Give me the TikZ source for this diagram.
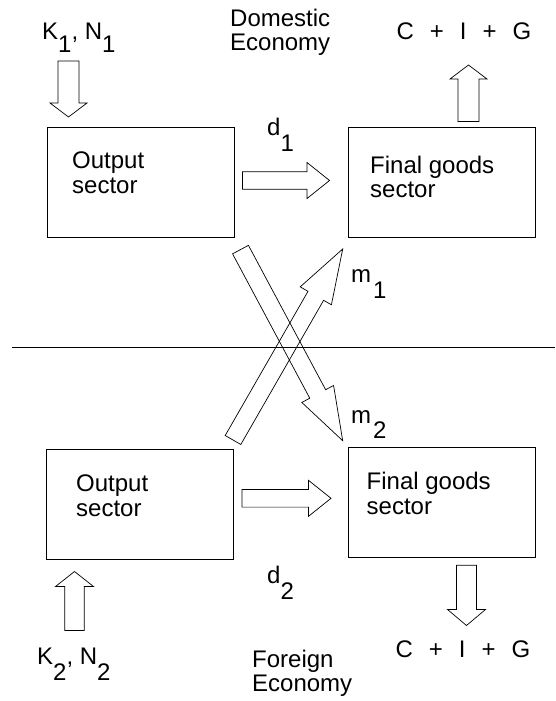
\documentclass[tikz,border=0pt]{standalone}
\usepackage{fontspec}
\setmainfont{Liberation Sans}
\usetikzlibrary{calc}
\tikzset{
  boxshape/.style={draw, line width=0.9pt, minimum width=187pt, minimum height=110pt, inner sep=0pt},
  txt/.style={inner sep=0pt, anchor=base west, font=\fontsize{24}{26}\selectfont},
  arrowline/.style={draw, line width=0.7pt, line join=miter}
}
\newcommand\blockarrow[5]{%
  \coordinate (ba-h) at ($(#2)!#5!(#1)$);
  \draw[arrowline] ($(#1)!#3!90:(#2)$) -- ($(ba-h)!#3!90:(#2)$) -- ($(ba-h)!#4!90:(#2)$) -- (#2)
    -- ($(ba-h)!#4!-90:(#2)$) -- ($(ba-h)!#3!-90:(#2)$) -- ($(#1)!#3!-90:(#2)$) -- cycle;
}
\newcommand\lowsub[2]{\raisebox{-#1}{#2}}
\newcommand\gap{\hspace{16pt}}
\begin{document}
\begin{tikzpicture}[x=1pt, y=-1pt]
\useasboundingbox (0,0) rectangle (555,701);

% boxes
\node[boxshape] (tl) at (141,182) {};
\node[boxshape] (tr) at (441.5,182) {};
\node[boxshape] (bl) at (139.5,504) {};
\node[boxshape] (br) at (441.5,502) {};

% box texts
\node[txt] (tl1) at (72,168) {Output};
\node[txt] (tl2) at (72,193) {sector};
\node[txt] (tr1) at (370,173) {Final goods};
\node[txt] (tr2) at (370,197.5) {sector};
\node[txt] (bl1) at (76,491.5) {Output};
\node[txt] (bl2) at (76,516) {sector};
\node[txt] (br1) at (366.5,489.5) {Final goods};
\node[txt] (br2) at (366.5,514) {sector};

% outside labels
\node[txt] (k1) at (42,40) {K\lowsub{12.5pt}{1}, N\lowsub{12.5pt}{1}};
\node[inner sep=0pt, anchor=north west, align=left, font=\fontsize{24}{24}\selectfont] (dom) at (230,8.8) {Domestic\\Economy};
\node[txt, anchor=base] (cig1) at (464,40) {C\gap+\gap I\gap+\gap G};
\node[txt] (d1) at (267,135) {d\lowsub{16pt}{1}};
\node[txt] (m1) at (351,282) {m\kern2pt\lowsub{16pt}{1}};
\node[txt] (m2) at (351,423.5) {m\kern2pt\lowsub{15pt}{2}};
\node[txt] (d2) at (267,583) {d\lowsub{16pt}{2}};
\node[txt] (k2) at (37,664) {K\lowsub{16pt}{2}, N\lowsub{16pt}{2}};
\node[inner sep=0pt, anchor=north west, align=left, font=\fontsize{24}{24}\selectfont] (for) at (252,649.8) {Foreign\\Economy};
\node[txt, anchor=base] (cig2) at (463,657) {C\gap+\gap I\gap+\gap G};

% separating line
\coordinate (hl) at (12,347);
\coordinate (hr) at (555,347);
\draw[line width=0.9pt] (hl) -- (hr);

% arrow end points
\coordinate (k1t) at (68.5,61);   \coordinate (k1h) at (68.5,117);
\coordinate (c1t) at (468.5,121.5); \coordinate (c1h) at (468.5,65);
\coordinate (d1t) at (242.5,180.5); \coordinate (d1h) at (329.5,180.5);
\coordinate (d2t) at (242,498.3); \coordinate (d2h) at (331,498.3);
\coordinate (k2t) at (74.5,630.5); \coordinate (k2h) at (74.5,571.5);
\coordinate (c2t) at (466.5,565.3); \coordinate (c2h) at (466.5,625.5);
\coordinate (m1t) at (233,440); \coordinate (m1h) at (342.7,249);
\coordinate (m2t) at (240.5,249.6); \coordinate (m2h) at (342.7,440.7);

\blockarrow{k1t}{k1h}{10.5pt}{18.5pt}{14pt}
\blockarrow{c1t}{c1h}{10.5pt}{18.5pt}{14pt}
\blockarrow{d1t}{d1h}{8.8pt}{18pt}{22.5pt}
\blockarrow{d2t}{d2h}{8.8pt}{18pt}{22.5pt}
\blockarrow{k2t}{k2h}{9.8pt}{19pt}{15pt}
\blockarrow{c2t}{c2h}{10pt}{19pt}{16pt}
\blockarrow{m2t}{m2h}{9pt}{18pt}{53pt}
\blockarrow{m1t}{m1h}{9pt}{18pt}{54pt}
\end{tikzpicture}
\end{document}
